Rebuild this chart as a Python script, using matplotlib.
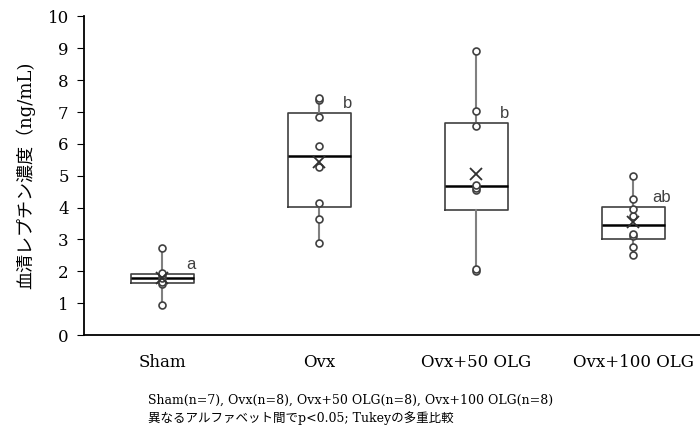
import numpy as np
import matplotlib
matplotlib.use("Agg")
import matplotlib.pyplot as plt

plt.rcParams['font.family'] = ['DejaVu Serif', 'Noto Sans CJK JP']

# data
groups = ['Sham', 'Ovx', 'Ovx+50 OLG', 'Ovx+100 OLG']
sham = [0.93, 1.60, 1.68, 1.80, 1.87, 1.95, 2.72]
ovx = [2.90, 3.65, 4.13, 5.27, 5.95, 6.85, 7.38, 7.45]
ovx50 = [2.00, 2.08, 4.55, 4.62, 4.72, 6.55, 7.02, 8.92]
ovx100 = [2.50, 2.75, 3.10, 3.18, 3.75, 3.95, 4.28, 4.98]
letters = ['a', 'b', 'b', 'ab']
ylabel = '血清レプチン濃度（ng/mL)'
note1 = 'Sham(n=7), Ovx(n=8), Ovx+50 OLG(n=8), Ovx+100 OLG(n=8)'
note2 = '異なるアルファベット間でp<0.05; Tukeyの多重比較'

data = [sham, ovx, ovx50, ovx100]
pos = np.arange(len(groups))

fig = plt.figure(figsize=(7, 4.34), dpi=100)
ax = fig.add_axes([0.12, 0.228, 0.897, 0.734])

edge = '#404040'
ax.boxplot(data, positions=pos, widths=0.4, whis=(0, 100),
           showcaps=False, showfliers=False, showmeans=True,
           boxprops=dict(color=edge, linewidth=1.2),
           whiskerprops=dict(color='#808080', linewidth=1.5),
           medianprops=dict(color='black', linewidth=1.8),
           meanprops=dict(marker='x', markersize=8, markeredgecolor='#303030',
                          markeredgewidth=1.3, zorder=4))

for i, vals in enumerate(data):
    ax.plot([pos[i]] * len(vals), vals, 'o', markersize=5, markerfacecolor='white',
            markeredgecolor=edge, markeredgewidth=1.2, zorder=3)
    q3 = np.percentile(vals, 75)
    ax.text(pos[i] + 0.18, q3 + 0.3, letters[i], ha='center', va='center',
            fontsize=12, color=edge, family=['Liberation Sans'])

ax.set_xlim(-0.5, 3.5)
ax.set_ylim(0, 10)
ax.set_yticks(range(0, 11))
ax.set_xticks(pos)
ax.set_xticklabels(groups, fontsize=12)
ax.tick_params(axis='x', length=0, pad=14)
ax.tick_params(axis='y', length=5, labelsize=12, pad=6)
ax.set_ylabel(ylabel, fontsize=13, labelpad=9)
for s in ['top', 'right']:
    ax.spines[s].set_visible(False)
for s in ['left', 'bottom']:
    ax.spines[s].set_linewidth(1.3)

fig.text(148 / 700, 1 - 400 / 434, note1, fontsize=9, va='center', ha='left')
fig.text(148 / 700, 1 - 418 / 434, note2, fontsize=9, va='center', ha='left')

fig.savefig('out.png', dpi=100)
